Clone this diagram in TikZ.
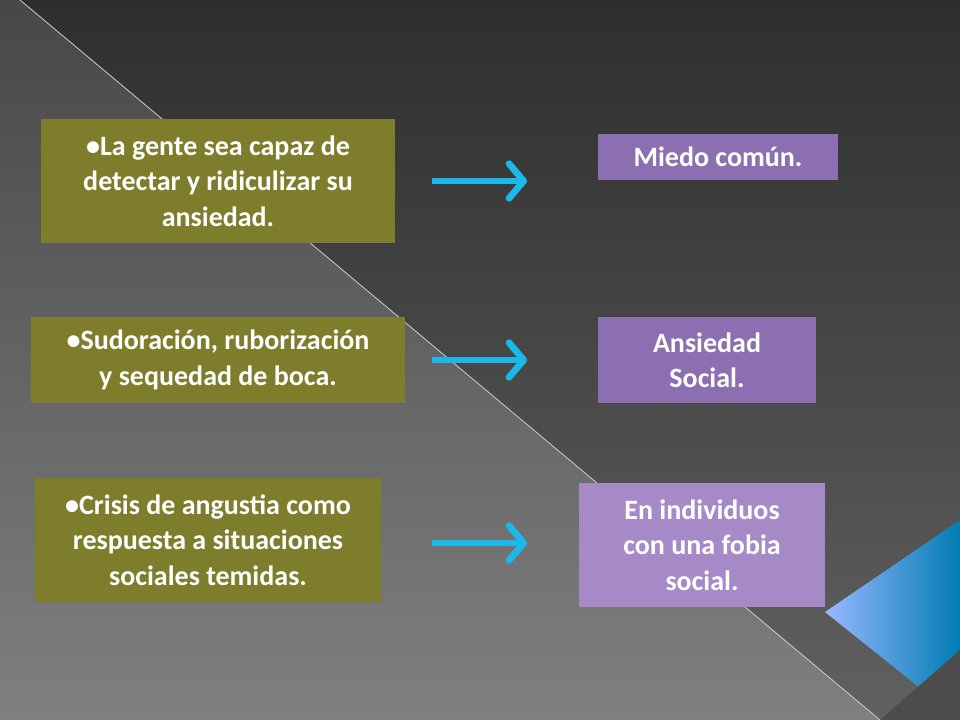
\documentclass[tikz,border=0pt]{standalone}
\usepackage{fontspec}
\setmainfont{Carlito}
\usetikzlibrary{arrows.meta}
\begin{document}
\begin{tikzpicture}[x=0.75pt,y=-0.75pt,
 lbox/.style={fill=olive0,text=white,align=center,font=\fontsize{21}{26.5}\selectfont\bfseries,inner sep=0pt},
 rbox/.style={fill=purp0,text=white,align=center,font=\fontsize{21}{26.5}\selectfont\bfseries,inner sep=0pt},
 arr/.style={draw=cyan0,line width=5pt,-{Straight Barb[length=11pt,width=26pt,line width=5pt,round]}}]
\definecolor{olive0}{HTML}{7E7D2C}
\definecolor{purp0}{HTML}{8C6FB0}
\definecolor{purp1}{HTML}{A68AC8}
\definecolor{cyan0}{HTML}{1CB8EA}
\useasboundingbox (0,0) rectangle (960,720);
\shade[top color=black!82,bottom color=black!62] (0,0) rectangle (960,720);
\shade[top color=black!72,bottom color=black!50] (0,0) -- (20,0) -- (880,720) -- (0,720) -- cycle;
\draw[white!60!gray,line width=0.6pt] (20,0) -- (880,720);
\shade[left color=cyan!30!blue!40!white,right color=cyan!70!blue!70!black] (825,612) -- (960,520) -- (960,720) -- cycle;
\fill[black!70] (880,720) -- (960,650) -- (960,720) -- cycle;
\node[lbox,minimum width=265.5pt,minimum height=93pt] (a1) at (218,181) {•La gente sea capaz de\\detectar y ridiculizar su\\ansiedad.};
\node[lbox,minimum width=280.5pt,minimum height=64pt] (a2) at (218,360) {•Sudoración, ruborización\\y sequedad de boca.};
\node[lbox,minimum width=259pt,minimum height=93pt] (a3) at (208,540) {•Crisis de angustia como\\respuesta a situaciones\\sociales temidas.};
\node[rbox,minimum width=180pt,minimum height=35pt] (b1) at (718,157) {Miedo común.};
\node[rbox,minimum width=163.5pt,minimum height=64pt] (b2) at (707,360) {Ansiedad\\Social.};
\node[rbox,fill=purp1,minimum width=184.5pt,minimum height=93pt] (b3) at (702,545) {En individuos\\con una fobia\\social.};
\coordinate (s1) at (432,181); \coordinate (e1) at (527,181);
\coordinate (s2) at (432,360); \coordinate (e2) at (527,360);
\coordinate (s3) at (432,543); \coordinate (e3) at (527,543);
\draw[arr] (s1) -- (e1);
\draw[arr] (s2) -- (e2);
\draw[arr] (s3) -- (e3);
\end{tikzpicture}
\end{document}
